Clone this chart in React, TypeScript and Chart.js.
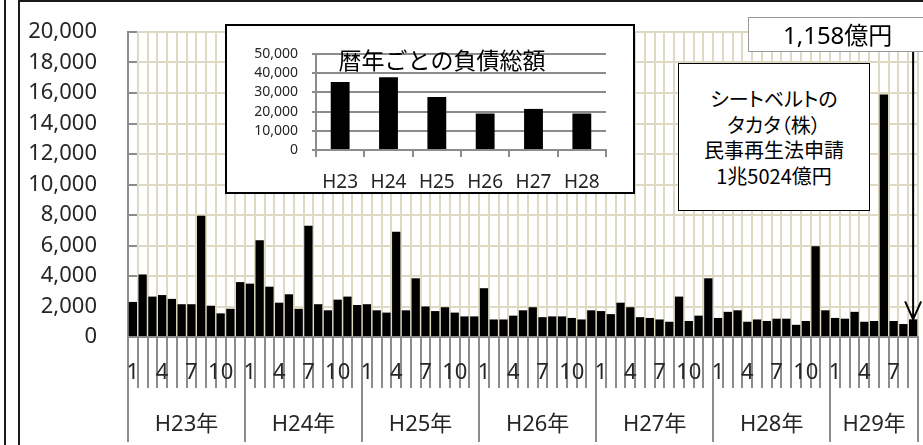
import React, { useEffect, useRef } from "react";
import { Chart, registerables } from "chart.js";

Chart.register(...registerables);

// ---- Data (負債総額, 百万円) ----
const yearNames = ["H23年", "H24年", "H25年", "H26年", "H27年", "H28年", "H29年"];
const monthTickLabels = ["1", "", "", "4", "", "", "7", "", "", "10", "", ""];

const h23 = [2300, 4100, 2650, 2750, 2500, 2150, 2150, 7950, 2050, 1550, 1850, 3600];
const h24 = [3500, 6350, 3300, 2250, 2800, 1850, 7300, 2150, 1750, 2450, 2650, 2100];
const h25 = [2150, 1750, 1600, 6900, 1750, 3850, 2000, 1700, 1950, 1600, 1350, 1350];
const h26 = [3200, 1150, 1150, 1400, 1750, 1950, 1300, 1350, 1350, 1250, 1150, 1750];
const h27 = [1700, 1500, 2250, 1950, 1300, 1250, 1150, 1000, 2650, 1050, 1400, 3850];
const h28 = [1250, 1650, 1750, 1000, 1150, 1050, 1200, 1200, 800, 1050, 5950, 1750];
const h29 = [1250, 1200, 1650, 1000, 1050, 15900, 1050, 850, 1158];
const yearSeries = [h23, h24, h25, h26, h27, h28, h29];

const annualLabels = ["H23", "H24", "H25", "H26", "H27", "H28"];
const annualTotals = [35400, 37900, 27600, 19000, 21400, 19000];

const BEIGE = "#DDD9C3";
const GREY = "#8C8C8C";
const NUM_FONT = "'Noto Sans', 'Noto Sans CJK JP', sans-serif";
const JP_FONT = "'Noto Sans CJK JP', 'Noto Sans', sans-serif";

const labels: string[] = [];
const values: number[] = [];
const monthIndex: number[] = [];
yearSeries.forEach((arr, yi) => {
  arr.forEach((v, mi) => {
    labels.push(yearNames[yi] + (mi + 1) + "月");
    values.push(v);
    monthIndex.push(mi);
  });
});

const fmt = (v: any) => Number(v).toLocaleString("en-US");

const axisPlugin = {
  id: "customAxis",
  beforeDatasetsDraw(chart: any) {
    const { ctx, chartArea } = chart;
    const ys = chart.scales.y;
    ctx.save();
    ctx.strokeStyle = GREY;
    ctx.lineWidth = 2;
    ys.ticks.forEach((t: any) => {
      const y = Math.round(ys.getPixelForValue(t.value));
      ctx.beginPath();
      ctx.moveTo(chartArea.left, y);
      ctx.lineTo(chartArea.left + 9, y);
      ctx.stroke();
    });
    ctx.restore();
  },
  afterDraw(chart: any) {
    const { ctx, chartArea } = chart;
    const xs = chart.scales.x;
    const ys = chart.scales.y;
    const n = values.length;
    const step = xs.getPixelForValue(1) - xs.getPixelForValue(0);
    const boundary = (i: number) =>
      i < n ? xs.getPixelForValue(i) - step / 2 : xs.getPixelForValue(n - 1) + step / 2;
    ctx.save();
    ctx.strokeStyle = GREY;
    ctx.lineWidth = 2;
    for (let i = 0; i <= n; i++) {
      const isYear = i === n || monthIndex[i] === 0;
      const x = Math.round(boundary(i));
      ctx.beginPath();
      ctx.moveTo(x, chartArea.bottom);
      ctx.lineTo(x, isYear ? 442 : 388);
      ctx.stroke();
    }
    ctx.fillStyle = "#262626";
    ctx.textAlign = "center";
    ctx.textBaseline = "middle";
    ctx.font = `22px ${NUM_FONT}`;
    for (let i = 0; i < n; i++) {
      const t = monthTickLabels[monthIndex[i]];
      if (t) ctx.fillText(t, xs.getPixelForValue(i), 373);
    }
    ctx.font = `22px ${NUM_FONT}`;
    let start = 0;
    yearSeries.forEach((arr, yi) => {
      const x0 = boundary(start);
      const x1 = boundary(start + arr.length);
      ctx.fillText(yearNames[yi], (x0 + x1) / 2, 425);
      start += arr.length;
    });
    // arrow to the last bar
    const li = n - 1;
    const ax = xs.getPixelForValue(li);
    const ay = ys.getPixelForValue(values[li]);
    ctx.strokeStyle = "#000";
    ctx.lineWidth = 2;
    ctx.beginPath();
    ctx.moveTo(ax, 52);
    ctx.lineTo(ax, ay);
    ctx.moveTo(ax - 8, ay - 18);
    ctx.lineTo(ax, ay);
    ctx.lineTo(ax + 8, ay - 18);
    ctx.stroke();
    ctx.restore();
  },
};

export default function App() {
  const mainRef = useRef<HTMLCanvasElement>(null);
  const insetRef = useRef<HTMLCanvasElement>(null);

  useEffect(() => {
    const main = new Chart(mainRef.current as HTMLCanvasElement, {
      type: "bar",
      data: {
        labels,
        datasets: [
          {
            data: values,
            backgroundColor: "#000",
            barPercentage: 0.85,
            categoryPercentage: 1,
          },
        ],
      },
      options: {
        animation: false,
        responsive: false,
        devicePixelRatio: 1,
        layout: { padding: { top: 32, right: 5, left: 0, bottom: 0 } },
        plugins: { legend: { display: false }, tooltip: { enabled: false } },
        scales: {
          x: {
            grid: { color: BEIGE, lineWidth: 2, offset: true, drawTicks: false },
            border: { display: true, color: GREY, width: 2 },
            ticks: { display: false },
            afterFit: (s: any) => {
              s.height = 108;
            },
          },
          y: {
            min: 0,
            max: 20000,
            ticks: {
              stepSize: 2000,
              autoSkip: false,
              padding: 0,
              color: "#262626",
              font: { family: NUM_FONT, size: 22 },
              callback: fmt,
            },
            grid: {
              color: BEIGE,
              lineWidth: 2,
              drawTicks: true,
              tickLength: 31,
              tickColor: "rgba(0,0,0,0)",
            },
            border: { color: GREY, width: 2 },
            afterFit: (s: any) => {
              s.width = 128;
            },
          },
        },
      } as any,
      plugins: [axisPlugin],
    });

    const inset = new Chart(insetRef.current as HTMLCanvasElement, {
      type: "bar",
      data: {
        labels: annualLabels,
        datasets: [
          {
            data: annualTotals,
            backgroundColor: "#000",
            barPercentage: 0.39,
            categoryPercentage: 1,
          },
        ],
      },
      options: {
        animation: false,
        responsive: false,
        devicePixelRatio: 1,
        layout: { padding: { top: 28, right: 27, left: 0, bottom: 0 } },
        plugins: { legend: { display: false }, tooltip: { enabled: false } },
        scales: {
          x: {
            grid: {
              drawOnChartArea: false,
              drawTicks: true,
              tickLength: 7,
              color: GREY,
              lineWidth: 2,
              offset: true,
            },
            border: { color: GREY, width: 2 },
            ticks: {
              padding: 14,
              maxRotation: 0,
              autoSkip: false,
              color: "#262626",
              font: { family: NUM_FONT, size: 19 },
            },
            afterFit: (s: any) => {
              s.height = 42;
            },
          },
          y: {
            min: 0,
            max: 50000,
            ticks: {
              stepSize: 10000,
              autoSkip: false,
              padding: 14,
              color: "#262626",
              font: { family: NUM_FONT, size: 14 },
              callback: fmt,
            },
            grid: { color: GREY, lineWidth: 2, tickLength: 4 },
            border: { color: GREY, width: 2 },
            afterFit: (s: any) => {
              s.width = 89;
            },
          },
        },
      } as any,
    });

    return () => {
      main.destroy();
      inset.destroy();
    };
  }, []);

  return (
    <div
      style={{
        position: "fixed",
        left: 0,
        top: 0,
        width: 923,
        height: 445,
        background: "#fff",
        overflow: "hidden",
      }}
    >
      <canvas ref={mainRef} width={923} height={445} style={{ display: "block" }} />

      {/* outer frame */}
      <div style={{ position: "absolute", left: 4, top: 0, width: 2, height: 445, background: "#1a1a1a" }} />
      <div
        style={{
          position: "absolute",
          left: 18,
          top: 0,
          width: 923,
          height: 460,
          borderTop: "2px solid #1a1a1a",
          borderLeft: "2px solid #1a1a1a",
          boxSizing: "border-box",
        }}
      />

      {/* inset chart */}
      <div
        style={{
          position: "absolute",
          left: 225,
          top: 24,
          width: 410,
          height: 170,
          border: "2px solid #000",
          background: "#fff",
          boxSizing: "border-box",
        }}
      >
        <canvas ref={insetRef} width={406} height={166} style={{ display: "block" }} />
        <div
          style={{
            position: "absolute",
            left: 90,
            top: 18,
            width: 250,
            textAlign: "center",
            fontFamily: JP_FONT,
            fontSize: 23,
            lineHeight: "30px",
            color: "#000",
            whiteSpace: "nowrap",
          }}
        >
          暦年ごとの負債総額
        </div>
      </div>

      {/* Takata annotation */}
      <div
        style={{
          position: "absolute",
          left: 678,
          top: 63,
          width: 192,
          height: 148,
          border: "1.5px solid #000",
          background: "#fff",
          boxSizing: "border-box",
          display: "flex",
          flexDirection: "column",
          justifyContent: "center",
          alignItems: "center",
          fontFamily: JP_FONT,
          fontSize: 20,
          lineHeight: "25.5px",
          color: "#000",
          textAlign: "center",
          fontFeatureSettings: '"palt"',
        }}
      >
        <div>シートベルトの</div>
        <div>タカタ（株）</div>
        <div>民事再生法申請</div>
        <div>1兆5024億円</div>
      </div>

      {/* value label box */}
      <div
        style={{
          position: "absolute",
          left: 748,
          top: 17,
          width: 180,
          height: 35,
          border: "1px solid #999",
          background: "#fff",
          boxSizing: "border-box",
        }}
      >
        <div
          style={{
            position: "absolute",
            left: 34,
            top: 0,
            width: 108,
            lineHeight: "34px",
            textAlign: "center",
            fontFamily: NUM_FONT,
            fontSize: 24,
            color: "#000",
            whiteSpace: "nowrap",
          }}
        >
          1,158億円
        </div>
      </div>
    </div>
  );
}
